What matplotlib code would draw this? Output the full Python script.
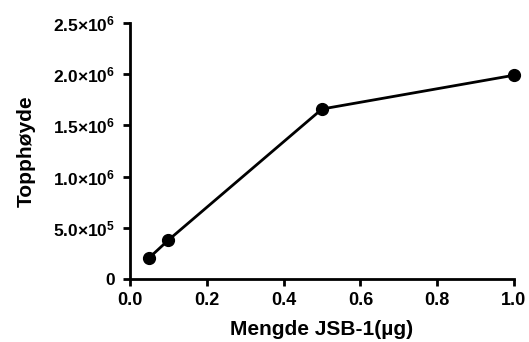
import matplotlib
matplotlib.use("Agg")
import matplotlib.pyplot as plt

x_vals = [0.05, 0.1, 0.5, 1.0]
y_vals = [0.207e6, 0.38e6, 1.66e6, 1.99e6]
x_ticks = [0.0, 0.2, 0.4, 0.6, 0.8, 1.0]
x_ticklabels = ["0.0", "0.2", "0.4", "0.6", "0.8", "1.0"]
y_ticks = [0, 0.5e6, 1.0e6, 1.5e6, 2.0e6, 2.5e6]
y_ticklabels = ["0", r"$\mathbf{5.0{\times}10^{5}}$", r"$\mathbf{1.0{\times}10^{6}}$",
                r"$\mathbf{1.5{\times}10^{6}}$", r"$\mathbf{2.0{\times}10^{6}}$",
                r"$\mathbf{2.5{\times}10^{6}}$"]

plt.rcParams['font.family'] = ['Liberation Sans', 'DejaVu Sans']
plt.rcParams['font.weight'] = 'bold'
plt.rcParams['mathtext.fontset'] = 'custom'
plt.rcParams['mathtext.bf'] = 'Liberation Sans:bold'
plt.rcParams['mathtext.rm'] = 'Liberation Sans:bold'

fig = plt.figure(figsize=(5.29, 3.42), dpi=100)
ax = fig.add_axes([0.2457, 0.1842, 0.7259, 0.7485])
ax.plot(x_vals, y_vals, color='black', lw=2, marker='o', ms=8.5, clip_on=False, zorder=3)
ax.set_xlim(0, 1.0)
ax.set_ylim(0, 2.5e6)
ax.set_xticks(x_ticks)
ax.set_xticklabels(x_ticklabels, fontsize=13, fontweight='bold')
ax.set_yticks(y_ticks)
ax.set_yticklabels(y_ticklabels, fontsize=12.5, fontweight='bold')
for s in ['top', 'right']:
    ax.spines[s].set_visible(False)
for s in ['left', 'bottom']:
    ax.spines[s].set_linewidth(2)
ax.tick_params(width=2, length=5, direction='out')
ax.tick_params(axis='x', pad=4)
ax.tick_params(axis='y', pad=6)
ax.set_xlabel("Mengde JSB-1(µg)", fontsize=15, fontweight='bold', labelpad=8)
ax.set_ylabel("Topphøyde", fontsize=15, fontweight='bold', labelpad=12)
fig.savefig("out.png", dpi=100)
